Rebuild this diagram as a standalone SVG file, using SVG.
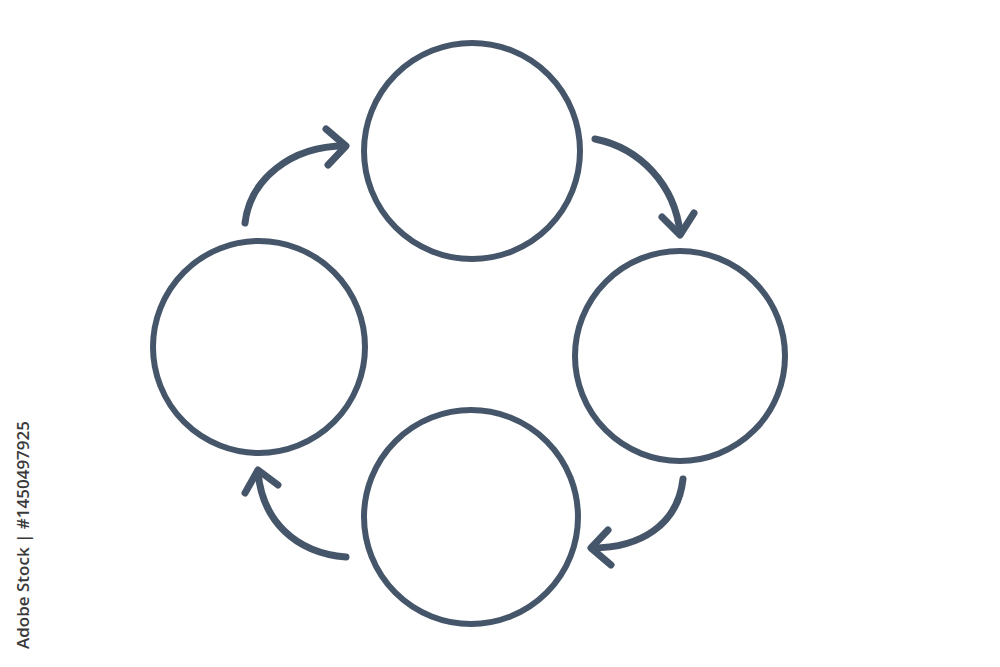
<svg xmlns="http://www.w3.org/2000/svg" width="1000" height="667" viewBox="0 0 1000 667">
<style>
.c{fill:none;stroke:#46566a;stroke-width:6}
.a{fill:none;stroke:#46566a;stroke-width:7;stroke-linecap:round;stroke-linejoin:round}
.t{font-family:"Open Sans","Liberation Sans",sans-serif;font-size:17px;font-weight:600;fill:#3a3a3a}
</style>
<rect width="1000" height="667" fill="#ffffff"/>
<g id="node-top"><circle class="c" cx="472" cy="151" r="108"/></g>
<g id="node-right"><circle class="c" cx="680" cy="356" r="105"/></g>
<g id="node-bottom"><circle class="c" cx="471" cy="517" r="107"/></g>
<g id="node-left"><circle class="c" cx="259" cy="347" r="106"/></g>
<g id="connectors">
<path class="a" d="M245,223 C250,180 290,146 345,146"/>
<path class="a" d="M326,129 L346,146 L328,165"/>
<path class="a" d="M595,139 C640,148 675,185 680,233"/>
<path class="a" d="M662,217 L680,235 L694,213"/>
<path class="a" d="M683,479 C678,525 640,548 592,548"/>
<path class="a" d="M608,530 L591,548 L611,565"/>
<path class="a" d="M346,557 C295,553 262,520 258,472"/>
<path class="a" d="M245,493 L258,470 L278,485"/>
</g>
<text class="t" transform="translate(29,421) rotate(-90)" text-anchor="end">Adobe Stock | #1450497925</text>
</svg>
